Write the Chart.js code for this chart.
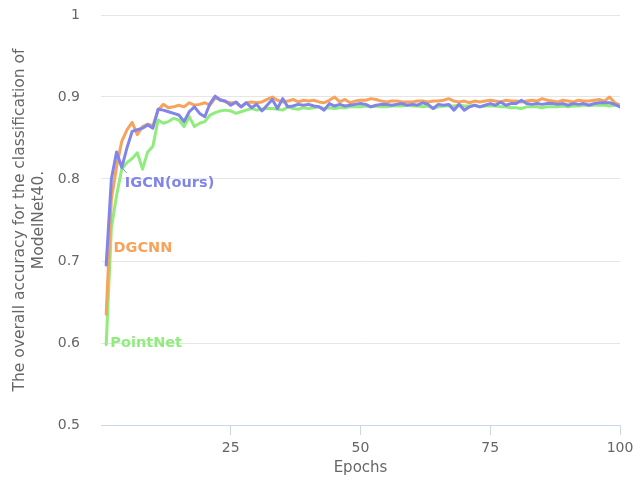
<!DOCTYPE html>
<html>
<head>
<meta charset="utf-8">
<script src="https://cdn.jsdelivr.net/npm/chart.js@4.4.1/dist/chart.umd.min.js"></script>
<style>
  html, body { margin: 0; padding: 0; background: #ffffff; }
  #wrap { width: 634px; height: 479px; }
</style>
</head>
<body>
<div id="wrap"><canvas id="chart" width="634" height="479"></canvas></div>
<script>
// Training epochs (x axis)
const epochs = [
  1, 2, 3, 4, 5, 6, 7, 8, 9, 10,
  11, 12, 13, 14, 15, 16, 17, 18, 19, 20,
  21, 22, 23, 24, 25, 26, 27, 28, 29, 30,
  31, 32, 33, 34, 35, 36, 37, 38, 39, 40,
  41, 42, 43, 44, 45, 46, 47, 48, 49, 50,
  51, 52, 53, 54, 55, 56, 57, 58, 59, 60,
  61, 62, 63, 64, 65, 66, 67, 68, 69, 70,
  71, 72, 73, 74, 75, 76, 77, 78, 79, 80,
  81, 82, 83, 84, 85, 86, 87, 88, 89, 90,
  91, 92, 93, 94, 95, 96, 97, 98, 99, 100
];

// Overall accuracy on ModelNet40 per epoch
const igcn = [
  0.695, 0.800, 0.833, 0.814, 0.838, 0.858, 0.860, 0.862, 0.866, 0.862,
  0.885, 0.884, 0.882, 0.880, 0.878, 0.870, 0.882, 0.888, 0.880, 0.876,
  0.892, 0.901, 0.896, 0.895, 0.890, 0.894, 0.888, 0.893, 0.887, 0.891,
  0.883, 0.890, 0.897, 0.886, 0.898, 0.888, 0.889, 0.891, 0.890, 0.891,
  0.889, 0.888, 0.884, 0.892, 0.889, 0.891, 0.889, 0.890, 0.891, 0.892,
  0.891, 0.888, 0.890, 0.891, 0.891, 0.890, 0.891, 0.892, 0.890, 0.891,
  0.890, 0.893, 0.891, 0.886, 0.891, 0.890, 0.891, 0.884, 0.891, 0.884,
  0.888, 0.890, 0.888, 0.890, 0.892, 0.890, 0.894, 0.890, 0.892, 0.892,
  0.896, 0.892, 0.891, 0.892, 0.891, 0.892, 0.892, 0.891, 0.892, 0.890,
  0.892, 0.891, 0.892, 0.890, 0.892, 0.893, 0.893, 0.893, 0.891, 0.888
];
const dgcnn = [
  0.635, 0.775, 0.815, 0.846, 0.860, 0.869, 0.854, 0.864, 0.867, 0.865,
  0.884, 0.891, 0.887, 0.888, 0.890, 0.888, 0.893, 0.890, 0.891, 0.893,
  0.890, 0.899, 0.897, 0.894, 0.893, 0.893, 0.888, 0.893, 0.894, 0.893,
  0.894, 0.897, 0.900, 0.896, 0.894, 0.895, 0.897, 0.894, 0.896, 0.895,
  0.896, 0.894, 0.893, 0.896, 0.900, 0.894, 0.897, 0.893, 0.895, 0.896,
  0.896, 0.898, 0.897, 0.895, 0.894, 0.895, 0.895, 0.894, 0.894, 0.894,
  0.895, 0.895, 0.894, 0.895, 0.895, 0.896, 0.898, 0.895, 0.894, 0.895,
  0.893, 0.895, 0.894, 0.895, 0.896, 0.895, 0.894, 0.896, 0.895, 0.895,
  0.894, 0.895, 0.896, 0.895, 0.898, 0.896, 0.895, 0.894, 0.896, 0.895,
  0.894, 0.896, 0.895, 0.895, 0.896, 0.897, 0.895, 0.900, 0.893, 0.890
];
const pointnet = [
  0.598, 0.740, 0.780, 0.812, 0.820, 0.825, 0.832, 0.812, 0.833, 0.840,
  0.872, 0.868, 0.870, 0.874, 0.872, 0.864, 0.876, 0.864, 0.868, 0.870,
  0.878, 0.881, 0.883, 0.884, 0.883, 0.880, 0.882, 0.884, 0.886, 0.884,
  0.885, 0.886, 0.886, 0.885, 0.884, 0.888, 0.886, 0.885, 0.887, 0.886,
  0.887, 0.888, 0.886, 0.887, 0.886, 0.887, 0.887, 0.888, 0.888, 0.888,
  0.889, 0.888, 0.889, 0.888, 0.888, 0.889, 0.889, 0.889, 0.890, 0.889,
  0.889, 0.888, 0.889, 0.886, 0.888, 0.889, 0.889, 0.889, 0.890, 0.889,
  0.889, 0.890, 0.888, 0.889, 0.889, 0.889, 0.888, 0.888, 0.887, 0.887,
  0.886, 0.888, 0.888, 0.888, 0.887, 0.888, 0.888, 0.888, 0.889, 0.888,
  0.889, 0.889, 0.890, 0.890, 0.890, 0.890, 0.890, 0.889, 0.890, 0.890
];

const seriesNames = ['IGCN(ours)', 'DGCNN', 'PointNet'];
const xTickValues = [25, 50, 75, 100];
const yTickValues = [0.5, 0.6, 0.7, 0.8, 0.9, 1];

const COLORS = ['#8085e9', '#f7a35c', '#90ed7d'];
const FONT = "'DejaVu Sans', 'Liberation Sans', sans-serif";

function toPoints(values) {
  return values.map((v, i) => ({ x: epochs[i], y: v }));
}

// Inline series labels placed next to the start of each curve
const seriesLabelPlugin = {
  id: 'seriesLabels',
  afterDatasetsDraw(chart, args, opts) {
    const { ctx, scales: { x, y } } = chart;
    ctx.save();
    ctx.font = `bold ${opts.size}px ${FONT}`;
    ctx.textAlign = 'left';
    ctx.textBaseline = 'middle';
    opts.items.forEach(item => {
      const color = chart.data.datasets[item.dataset].borderColor;
      const lx = x.getPixelForValue(item.at[0]);
      const ly = y.getPixelForValue(item.at[1]);
      if (item.connectTo != null) {
        const meta = chart.getDatasetMeta(item.dataset);
        const p = meta.data[item.connectTo];
        ctx.strokeStyle = color;
        ctx.lineWidth = 1;
        ctx.beginPath();
        ctx.moveTo(p.x, p.y);
        ctx.lineTo(lx + 2, ly - 10);
        ctx.stroke();
      }
      ctx.fillStyle = color;
      ctx.fillText(chart.data.datasets[item.dataset].label, lx, ly);
    });
    ctx.restore();
  }
};

new Chart(document.getElementById('chart'), {
  type: 'line',
  data: {
    datasets: [
      { label: seriesNames[0], data: toPoints(igcn), borderColor: COLORS[0] },
      { label: seriesNames[1], data: toPoints(dgcnn), borderColor: COLORS[1] },
      { label: seriesNames[2], data: toPoints(pointnet), borderColor: COLORS[2] }
    ]
  },
  plugins: [seriesLabelPlugin],
  options: {
    responsive: false,
    animation: false,
    layout: { padding: { left: 0, right: 14, top: 15, bottom: 0 } },
    elements: {
      line: { borderWidth: 3, tension: 0, borderJoinStyle: 'round', borderCapStyle: 'round' },
      point: { radius: 0, hoverRadius: 0 }
    },
    plugins: {
      legend: { display: false },
      tooltip: { enabled: false },
      seriesLabels: {
        size: 14.5,
        items: [
          { dataset: 0, at: [4.6, 0.795], connectTo: 3 },
          { dataset: 1, at: [2.4, 0.716] },
          { dataset: 2, at: [1.8, 0.600] }
        ]
      }
    },
    scales: {
      x: {
        type: 'linear',
        min: 0,
        max: 100,
        afterFit(scale) {
          scale.height = 54;
          scale.paddingLeft = 0;
          scale.paddingRight = 0;
        },
        afterBuildTicks(scale) { scale.ticks = xTickValues.map(v => ({ value: v })); },
        grid: { drawOnChartArea: false, drawTicks: true, tickLength: 10, color: '#ccd6eb', lineWidth: 1 },
        border: { display: true, color: '#ccd6eb', width: 1 },
        ticks: { color: '#666666', font: { family: FONT, size: 14 }, padding: 5, maxRotation: 0 },
        title: { display: true, text: 'Epochs', color: '#666666', font: { family: FONT, size: 15, lineHeight: 1.3 }, padding: { top: 0, bottom: 1 } }
      },
      y: {
        min: 0.5,
        max: 1,
        afterFit(scale) {
          scale.width = 101;
          scale.paddingTop = 0;
          scale.paddingBottom = 0;
        },
        afterBuildTicks(scale) { scale.ticks = yTickValues.map(v => ({ value: v })); },
        grid: { color: '#e6e6e6', lineWidth: 1, drawTicks: false },
        border: { display: false },
        ticks: {
          color: '#666666',
          font: { family: FONT, size: 14 },
          padding: 21,
          callback: v => String(Number(v.toFixed(1)))
        },
        title: {
          display: true,
          text: ['The overall accuracy for the classification of', 'ModelNet40.'],
          color: '#666666',
          font: { family: FONT, size: 15.5, lineHeight: 1.2 },
          padding: { top: 11, bottom: 0 }
        }
      }
    }
  }
});
</script>
</body>
</html>
